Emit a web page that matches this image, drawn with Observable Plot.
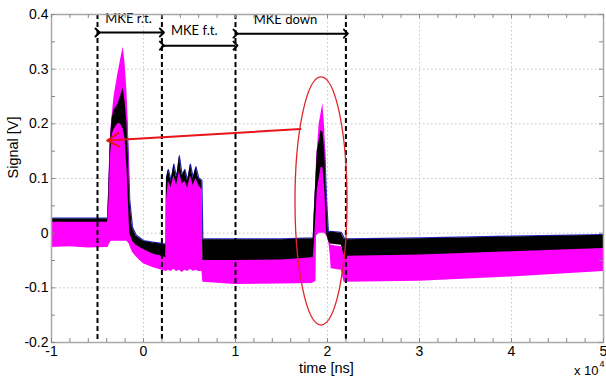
<!DOCTYPE html>
<html><head><meta charset="utf-8">
<script src="https://cdn.jsdelivr.net/npm/d3@7"></script>
<script src="https://cdn.jsdelivr.net/npm/@observablehq/plot@0.6"></script>
<style>body{margin:0;background:#fff}</style>
</head><body><div id="chart"></div>
<script>
// ---- data (time in 1e4 ns, signal in V) ----
const magentaT  = [-1,-0.8,-0.6,-0.4,-0.385,-0.37,-0.35,-0.32,-0.28,-0.24,-0.22,-0.2,-0.18,-0.165,-0.155,-0.145,-0.12,-0.08,-0.04,0,0.1,0.2,0.245,0.25,0.27,0.3,0.33,0.36,0.39,0.42,0.45,0.48,0.51,0.54,0.57,0.6,0.635,0.645,1.0,1.5,1.84,1.85,1.86,1.875,1.88,1.91,1.95,1.97,1.99,2.01,2.03,2.04,2.15,2.18,2.2,3.0,4.0,5.0];
const magentaHi = [0.024,0.022,0.024,0.022,0.03,0.13,0.2,0.25,0.29,0.325,0.34,0.31,0.26,0.2,0.12,0.05,0.0,-0.012,-0.02,-0.028,-0.036,-0.04,-0.042,0.09,0.1,0.085,0.11,0.09,0.12,0.095,0.1,0.085,0.11,0.09,0.105,0.09,0.085,-0.045,-0.045,-0.045,-0.045,0.0,0.05,0.1,0.13,0.2,0.237,0.19,0.07,0.0,-0.02,-0.022,-0.025,-0.035,-0.04,-0.038,-0.032,-0.026];
const magentaLo = [-0.026,-0.025,-0.027,-0.026,-0.026,-0.02,-0.015,-0.015,-0.015,-0.015,-0.015,-0.015,-0.015,-0.018,-0.02,-0.025,-0.035,-0.043,-0.05,-0.056,-0.063,-0.068,-0.07,-0.07,-0.068,-0.07,-0.066,-0.07,-0.068,-0.072,-0.068,-0.07,-0.066,-0.07,-0.068,-0.07,-0.07,-0.09,-0.094,-0.093,-0.092,-0.09,-0.09,-0.088,-0.005,0.0,0.0,0.0,-0.005,-0.01,-0.04,-0.065,-0.068,-0.09,-0.09,-0.088,-0.08,-0.07];

const blackT  = [-1,-0.6,-0.39,-0.375,-0.36,-0.34,-0.32,-0.28,-0.25,-0.22,-0.2,-0.18,-0.165,-0.15,-0.12,-0.08,0,0.1,0.2,0.245,0.25,0.27,0.3,0.33,0.36,0.39,0.42,0.45,0.48,0.51,0.54,0.57,0.6,0.635,0.645,1.0,1.5,1.845,1.86,1.89,1.93,1.95,1.97,1.99,2.01,2.03,2.15,2.18,2.2,3.0,4.0,5.0];
const blackHi = [0.026,0.026,0.026,0.09,0.17,0.21,0.225,0.235,0.25,0.265,0.24,0.2,0.14,0.06,0.01,-0.005,-0.015,-0.018,-0.02,-0.022,0.1,0.115,0.095,0.125,0.1,0.14,0.105,0.115,0.095,0.125,0.1,0.12,0.1,0.095,-0.012,-0.012,-0.012,-0.01,0.05,0.15,0.188,0.185,0.15,0.06,0.0,0.002,0.0,-0.01,-0.012,-0.01,-0.007,-0.004];
const blackLo = [0.02,0.02,0.02,0.06,0.14,0.18,0.19,0.2,0.2,0.19,0.17,0.12,0.06,0.0,-0.015,-0.022,-0.03,-0.038,-0.042,-0.045,0.06,0.095,0.083,0.105,0.087,0.113,0.09,0.095,0.082,0.105,0.087,0.1,0.087,0.08,-0.05,-0.05,-0.049,-0.045,-0.01,0.08,0.12,0.12,0.08,0.0,-0.015,-0.02,-0.022,-0.04,-0.042,-0.04,-0.034,-0.028];

const xTicks = [-1,0,1,2,3,4,5];
const yTicks = [-0.2,-0.1,0,0.1,0.2,0.3,0.4];

const dashX      = [-0.5,0.2,1.0,2.2];
const spanStart  = [-0.5,0.2,1.0];
const spanEnd    = [0.2,1.0,2.2];
const spanArrowY = [0.367,0.343,0.365];
const spanLabel  = ["MKE r.t.","MKE f.t.","MKE down"];
const spanLabelX = [-0.163,0.551,1.543];
const spanLabelY = [0.3927,0.3707,0.3909];

const redArrowFrom = [1.707,0.1906];
const redArrowTo   = [-0.395,0.1695];
const ellipseCenter = [1.935,0.058];
const ellipseRadius = [0.283,0.227];

// ---- layout ----
const W = 606, H = 382, mL = 51, mR = 3, mT = 14, mB = 40;
const fw = W - mL - mR, fh = H - mT - mB;

const rows = (T, lo, hi) => T.map((t, i) => ({t, lo: lo[i], hi: hi[i]}));
const magenta = rows(magentaT, magentaLo, magentaHi);
const black = rows(blackT, blackLo, blackHi);
const spans = spanStart.map((s, i) => ({x1: s, x2: spanEnd[i], y: spanArrowY[i], label: spanLabel[i], lx: spanLabelX[i], ly: spanLabelY[i]}));
const xMinor = d3.range(-1, 5.001, 0.2).map(v => +v.toFixed(2));
const yMinor = d3.range(-0.2, 0.4001, 0.05).map(v => +v.toFixed(3));
const font = "Arial, 'Liberation Sans', sans-serif";

const chart = Plot.plot({
  width: W, height: H,
  marginLeft: mL, marginRight: mR, marginTop: mT, marginBottom: mB,
  style: {fontFamily: font, fontSize: "14px", background: "white", color: "black"},
  x: {domain: [-1, 5], ticks: xTicks, tickSize: 0, tickPadding: 4, tickFormat: d => String(d), label: null},
  y: {domain: [-0.2, 0.4], ticks: yTicks, tickSize: 0, tickPadding: 3, tickFormat: d => String(d), label: null},
  marks: [
    Plot.ruleX(xTicks, {x: d => d, stroke: "#c4c4c4", strokeDasharray: "1.5,2.5"}),
    Plot.ruleY(yTicks, {y: d => d, stroke: "#c4c4c4", strokeDasharray: "1.5,2.5"}),
    Plot.lineY(black, {x: "t", y: "hi", stroke: "#2424c8", strokeWidth: 1.2, dy: -0.8}),
    Plot.areaY(magenta, {x: "t", y1: "lo", y2: "hi", fill: "#ff00ff"}),
    Plot.areaY(black, {x: "t", y1: "lo", y2: "hi", fill: "#000000"}),
    Plot.ruleX(dashX, {x: d => d, stroke: "black", strokeWidth: 2, strokeDasharray: "5,3"}),
    Plot.link(spans, {x1: "x1", x2: "x2", y1: "y", y2: "y", stroke: "black", strokeWidth: 2, markerStart: "arrow", markerEnd: "arrow"}),
    Plot.text(spans, {x: "lx", y: "ly", text: "label", fontFamily: "Lato, 'Open Sans', sans-serif", fontSize: 13, fill: "black", stroke: "white", strokeWidth: 5}),
    Plot.arrow([0], {x1: () => redArrowFrom[0], y1: () => redArrowFrom[1], x2: () => redArrowTo[0], y2: () => redArrowTo[1], stroke: "#e8141a", strokeWidth: 2, headLength: 10}),
    Plot.frame({stroke: "#a8a8a8", strokeWidth: 1.5}),
    Plot.tickX(xMinor, {x: d => d, insetTop: fh - 4, stroke: "#8a8a8a"}),
    Plot.tickX(xMinor, {x: d => d, insetBottom: fh - 4, stroke: "#8a8a8a"}),
    Plot.tickY(yMinor, {y: d => d, insetRight: fw - 4, stroke: "#8a8a8a"}),
    Plot.tickY(yMinor, {y: d => d, insetLeft: fw - 4, stroke: "#8a8a8a"}),
    Plot.text(["time [ns]"], {frameAnchor: "bottom", lineAnchor: "middle", dx: -1, dy: 26, fontSize: 14.5}),
    Plot.text(["Signal [V]"], {frameAnchor: "left", lineAnchor: "middle", dx: -38, rotate: -90, fontSize: 14.5}),
    Plot.text(["x 10"], {frameAnchor: "bottom-right", lineAnchor: "middle", textAnchor: "end", dx: -5, dy: 28, fontSize: 13}),
    Plot.text(["4"], {frameAnchor: "bottom-right", lineAnchor: "middle", textAnchor: "start", dx: -4, dy: 22, fontSize: 9})
  ]
});

const svgEl = chart.tagName.toLowerCase() === "svg" ? chart : chart.querySelector("svg");
const sx = chart.scale("x"), sy = chart.scale("y");
const cx = sx.apply(ellipseCenter[0]), cy = sy.apply(ellipseCenter[1]);
d3.select(svgEl).append("ellipse")
  .attr("cx", cx).attr("cy", cy)
  .attr("rx", Math.abs(sx.apply(ellipseCenter[0] + ellipseRadius[0]) - cx))
  .attr("ry", Math.abs(sy.apply(ellipseCenter[1] + ellipseRadius[1]) - cy))
  .attr("fill", "none").attr("stroke", "#e0262a").attr("stroke-width", 1.3);

document.getElementById("chart").appendChild(chart);
</script>
</body></html>
